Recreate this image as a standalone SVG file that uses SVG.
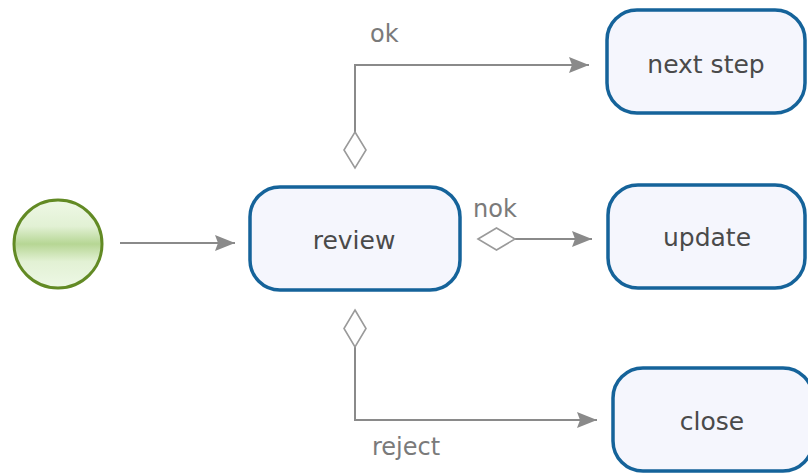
<svg xmlns="http://www.w3.org/2000/svg" width="808" height="473" viewBox="0 0 808 473">
  <style>
    .task { fill: #f5f6fd; stroke: #15639a; stroke-width: 3.5; }
    .label { font-family: "DejaVu Sans", Verdana, sans-serif; font-size: 25px; fill: #4a4a4a; text-anchor: middle; }
    .guard { font-family: "DejaVu Sans", Verdana, sans-serif; font-size: 24px; fill: #7a7a7a; }
    .flow { fill: none; stroke: #8a8a8a; stroke-width: 2; marker-end: url(#arrow); }
    .gate { fill: #ffffff; stroke: #9a9a9a; stroke-width: 1.6; }
  </style>
  <defs>
    <linearGradient id="startFill" x1="0" y1="0" x2="0" y2="1">
      <stop offset="0" stop-color="#eef8e6"/>
      <stop offset="0.3" stop-color="#e2f1d4"/>
      <stop offset="0.5" stop-color="#b6d694"/>
      <stop offset="0.7" stop-color="#e2f1d4"/>
      <stop offset="1" stop-color="#eef8e6"/>
    </linearGradient>
    <marker id="arrow" viewBox="0 0 20 16" refX="20" refY="8" markerWidth="20" markerHeight="16" markerUnits="userSpaceOnUse" orient="auto">
      <path d="M0,0 L20,8 L0,16 L3,8 Z" fill="#8a8a8a"/>
    </marker>
  </defs>

  <rect width="808" height="473" fill="#ffffff"/>

  <!-- sequence flows with their conditional gates and guard labels -->
  <g id="connectors">
    <line class="flow" x1="120" y1="243" x2="235" y2="243"/>
    <polyline class="flow" points="355,132 355,65 589,65"/>
    <polygon class="gate" points="355,132 366,150 355,168 344,150"/>
    <text class="guard" x="370" y="42">ok</text>
    <line class="flow" x1="515" y1="239" x2="592" y2="239"/>
    <polygon class="gate" points="478,239 496.5,228 515,239 496.5,250"/>
    <text class="guard" x="473" y="217">nok</text>
    <polyline class="flow" points="355,347 355,420 597,420"/>
    <polygon class="gate" points="355,310 366,328.5 355,347 344,328.5"/>
    <text class="guard" x="372" y="455">reject</text>
  </g>

  <g id="start">
    <circle cx="58" cy="244" r="44" fill="url(#startFill)" stroke="#628a24" stroke-width="3"/>
  </g>

  <g id="review">
    <rect class="task" x="250" y="187" width="210" height="103" rx="30"/>
    <text class="label" x="354" y="249">review</text>
  </g>

  <g id="next-step">
    <rect class="task" x="607" y="10" width="198" height="103" rx="30"/>
    <text class="label" x="706" y="73">next step</text>
  </g>

  <g id="update">
    <rect class="task" x="608" y="185" width="197" height="103" rx="30"/>
    <text class="label" x="707" y="246">update</text>
  </g>

  <g id="close">
    <rect class="task" x="613" y="368" width="200" height="103" rx="30"/>
    <text class="label" x="712" y="430">close</text>
  </g>
</svg>
